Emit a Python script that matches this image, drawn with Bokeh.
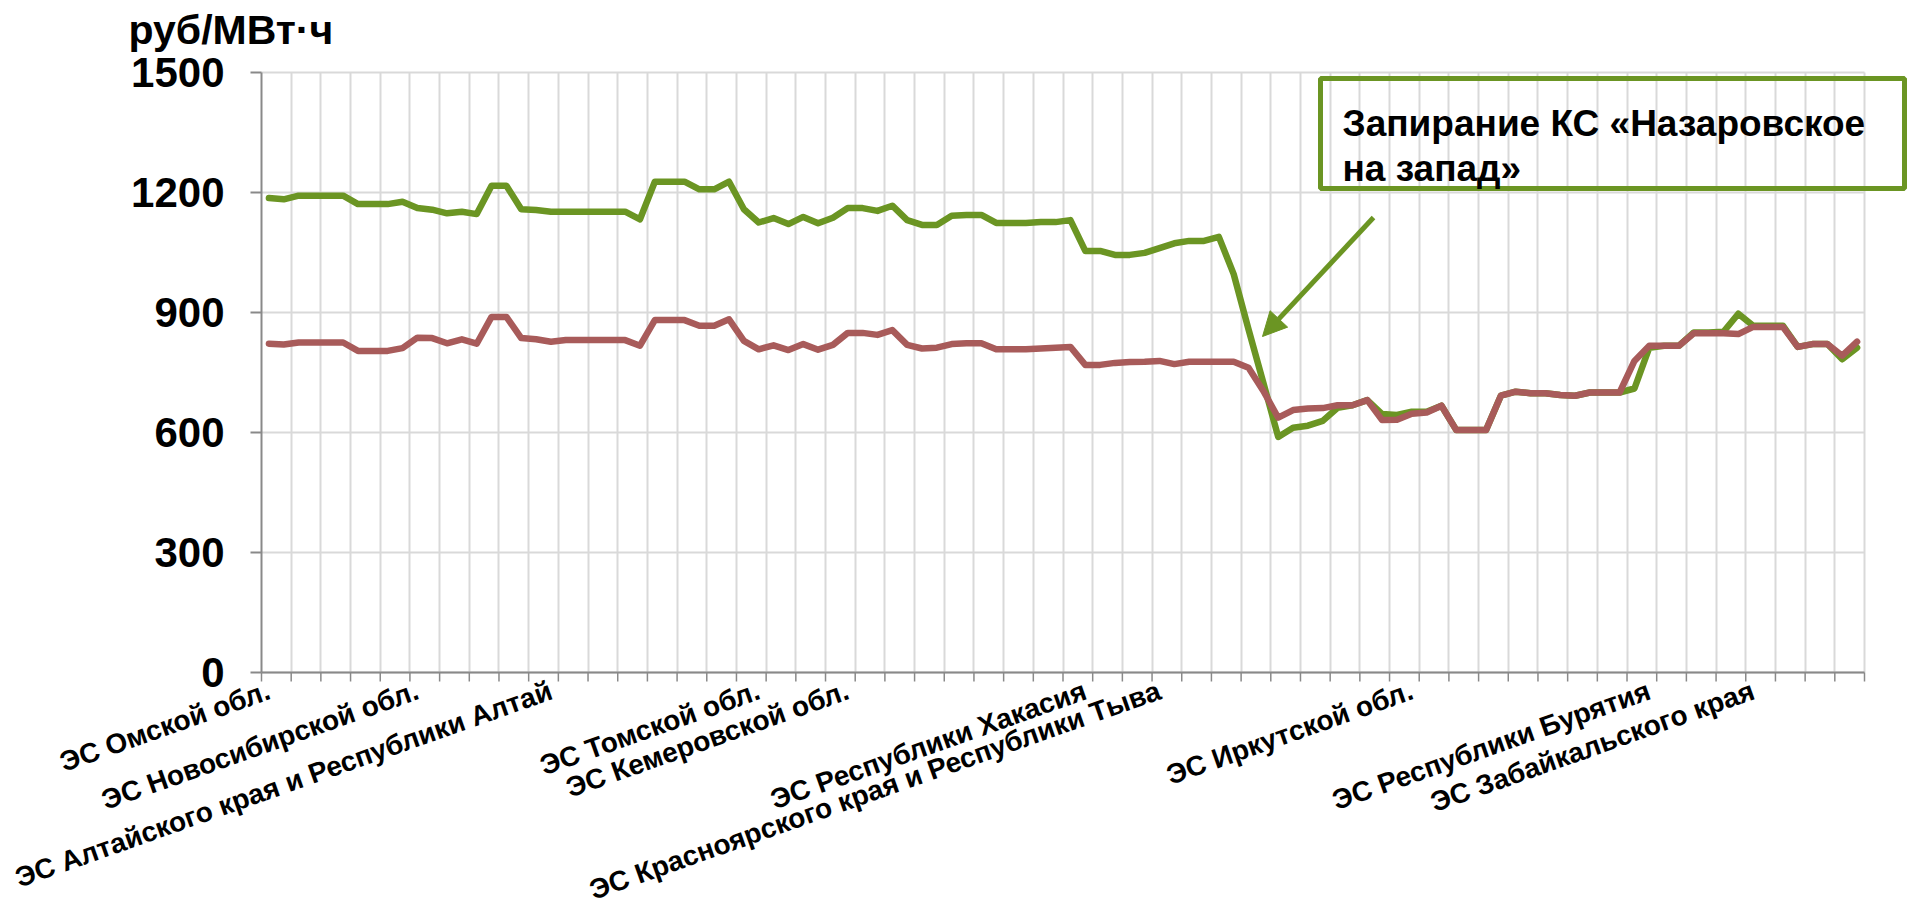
from bokeh.plotting import figure
from bokeh.models import (Range1d, FixedTicker, LabelSet, ColumnDataSource, Label,
                          BoxAnnotation, Arrow, NormalHead)
from bokeh.core.properties import value
from bokeh.embed import file_html
from bokeh.resources import INLINE

# ---- data -------------------------------------------------------------
green = [1186, 1183, 1192, 1192, 1192, 1192, 1171, 1171, 1171, 1177,
         1161, 1157, 1148, 1152, 1146, 1217, 1217, 1158, 1156, 1152,
         1152, 1152, 1152, 1152, 1152, 1133, 1227, 1227, 1227, 1208,
         1208, 1227, 1158, 1125, 1136, 1121, 1139, 1123, 1137, 1161,
         1161, 1154, 1167, 1131, 1119, 1119, 1142, 1144, 1144, 1124,
         1124, 1124, 1126, 1126, 1131, 1054, 1054, 1044, 1044, 1049,
         1061, 1073, 1079, 1079, 1089, 996, 858, 724, 589, 612,
         617, 629, 662, 668, 681, 646, 644, 652, 652, 667,
         606, 606, 606, 692, 702, 698, 698, 694, 692, 700,
         700, 700, 710, 812, 817, 817, 850, 850, 852, 897,
         867, 867, 867, 814, 821, 821, 783, 812]

red = [822, 820, 825, 825, 825, 825, 804, 804, 804, 811,
       837, 836, 823, 833, 822, 889, 889, 836, 833, 827,
       831, 831, 831, 831, 831, 817, 881, 881, 881, 867,
       867, 883, 829, 808, 818, 806, 821, 807, 819, 849,
       849, 844, 856, 819, 810, 812, 821, 823, 823, 808,
       808, 808, 810, 812, 814, 769, 769, 774, 776, 777,
       779, 771, 777, 777, 777, 777, 762, 704, 637, 656,
       660, 661, 668, 668, 681, 631, 632, 647, 650, 667,
       606, 606, 606, 692, 702, 698, 698, 694, 692, 700,
       700, 700, 779, 817, 817, 817, 848, 848, 848, 846,
       864, 864, 864, 814, 821, 821, 792, 827]

region_index = [0, 10, 19, 33, 39, 55, 60, 77, 93, 100]
region_names = ["ЭС Омской обл.",
                "ЭС Новосибирской обл.",
                "ЭС Алтайского края и Республики Алтай",
                "ЭС Томской обл.",
                "ЭС Кемеровской обл.",
                "ЭС Республики Хакасия",
                "ЭС Красноярского края и Республики Тыва",
                "ЭС Иркутской обл.",
                "ЭС Республики Бурятия",
                "ЭС Забайкальского края"]

y_ticks = [0, 300, 600, 900, 1200, 1500]
y_tick_labels = ["0", "300", "600", "900", "1200", "1500"]
unit_label = "руб/МВт·ч"
note_lines = ["Запирание КС «Назаровское", "на запад»"]

# ---- layout / styling -------------------------------------------------
GREEN = "#6B9523"
RED = "#A85B5A"
FONT = "Liberation Sans"
GRID = "#D9D9D9"
AXIS = "#898989"

W, H = 1907, 913
LEFT, TOP = 261, 72          # chart area left / top in canvas pixels
PLOT_W, PLOT_H = 1603, 600   # chart area size (categories x 0..1500)

n = len(green)
xs = list(range(n))
x_lo, x_hi = -0.5, n - 0.5
ppx = PLOT_W / n             # pixels per category
ppy = PLOT_H / 1500          # pixels per unit


def px_x(px):
    """canvas pixel column -> data x"""
    return x_lo + (px - LEFT) / ppx


def px_y(px):
    """canvas pixel row -> data y"""
    return 1500 + (TOP - px) / ppy


boundaries = [x_lo + 2 * k for k in range(n // 2 + 1)]

p = figure(width=W, height=H, output_backend="svg", toolbar_location=None,
           x_range=Range1d(px_x(0), px_x(W)), y_range=Range1d(px_y(H), px_y(0)),
           x_axis_location=None, y_axis_location=None,
           min_border=0)
p.outline_line_color = None
p.background_fill_color = "white"
p.border_fill_color = "white"

# grids limited to chart area
p.xgrid.ticker = FixedTicker(ticks=boundaries[1:])
p.xgrid.bounds = (x_lo - 1, x_hi + 1)
p.xgrid.cross_bounds = (0, 1500)
p.ygrid.ticker = FixedTicker(ticks=y_ticks)
p.ygrid.bounds = (-10, 1510)
p.ygrid.cross_bounds = (x_lo, x_hi)
for g in (p.xgrid, p.ygrid):
    g.grid_line_color = GRID
    g.grid_line_width = 2

# x axis line and boundary tick marks
tick_x_len = 9 / ppy
p.segment(x0=boundaries, y0=[0] * len(boundaries), x1=boundaries,
          y1=[-tick_x_len] * len(boundaries), line_color=AXIS, line_width=1.5)
p.segment(x0=[x_lo], y0=[0], x1=[x_hi], y1=[0], line_color=AXIS, line_width=2)

# y axis line, ticks and labels
tick_y_len = 11 / ppx
p.segment(x0=[x_lo] * len(y_ticks), y0=y_ticks, x1=[x_lo - tick_y_len] * len(y_ticks),
          y1=y_ticks, line_color=AXIS, line_width=2)
p.segment(x0=[x_lo], y0=[0], x1=[x_lo], y1=[1500], line_color=AXIS, line_width=2)
p.text(x=[x_lo - 37 / ppx] * len(y_ticks), y=y_ticks, text=y_tick_labels,
       text_align="right", text_baseline="middle", text_font=value(FONT),
       text_font_style="bold", text_font_size=value("42px"), text_color="black")

# series
p.line(xs, green, line_color=GREEN, line_width=6.5, line_join="round", line_cap="round")
p.line(xs, red, line_color=RED, line_width=6.5, line_join="round", line_cap="round")

# category labels
lab_src = ColumnDataSource(dict(x=region_index, text=region_names,
                                y=[-17 / ppy] * len(region_index)))
p.add_layout(LabelSet(x="x", y="y", text="text", source=lab_src,
                      angle=19.5, angle_units="deg",
                      text_align="right", text_baseline="middle",
                      text_font=value(FONT), text_font_style="bold",
                      text_font_size=value("28px"), text_color="black"))

# unit label
p.add_layout(Label(x=px_x(128), y=px_y(29), text=unit_label,
                   text_font=FONT, text_font_style="bold", text_font_size="41px",
                   text_color="black", text_align="left", text_baseline="alphabetic"))

# annotation box
p.add_layout(BoxAnnotation(left=px_x(1320), right=px_x(1904), bottom=px_y(188), top=px_y(78),
                           fill_alpha=0, line_color=GREEN, line_width=5, line_alpha=1))
for line_txt, base_px in zip(note_lines, [123, 168]):
    p.add_layout(Label(x=px_x(1342), y=px_y(base_px), text=line_txt,
                       text_font=FONT, text_font_style="bold", text_font_size="37px",
                       text_color="black", text_baseline="alphabetic"))

# arrow
p.add_layout(Arrow(x_start=px_x(1373), y_start=px_y(217),
                   x_end=px_x(1262), y_end=px_y(336),
                   line_color=GREEN, line_width=5,
                   end=NormalHead(size=24, fill_color=GREEN, line_color=GREEN)))

open("out.html", "w").write(file_html(p, INLINE))
